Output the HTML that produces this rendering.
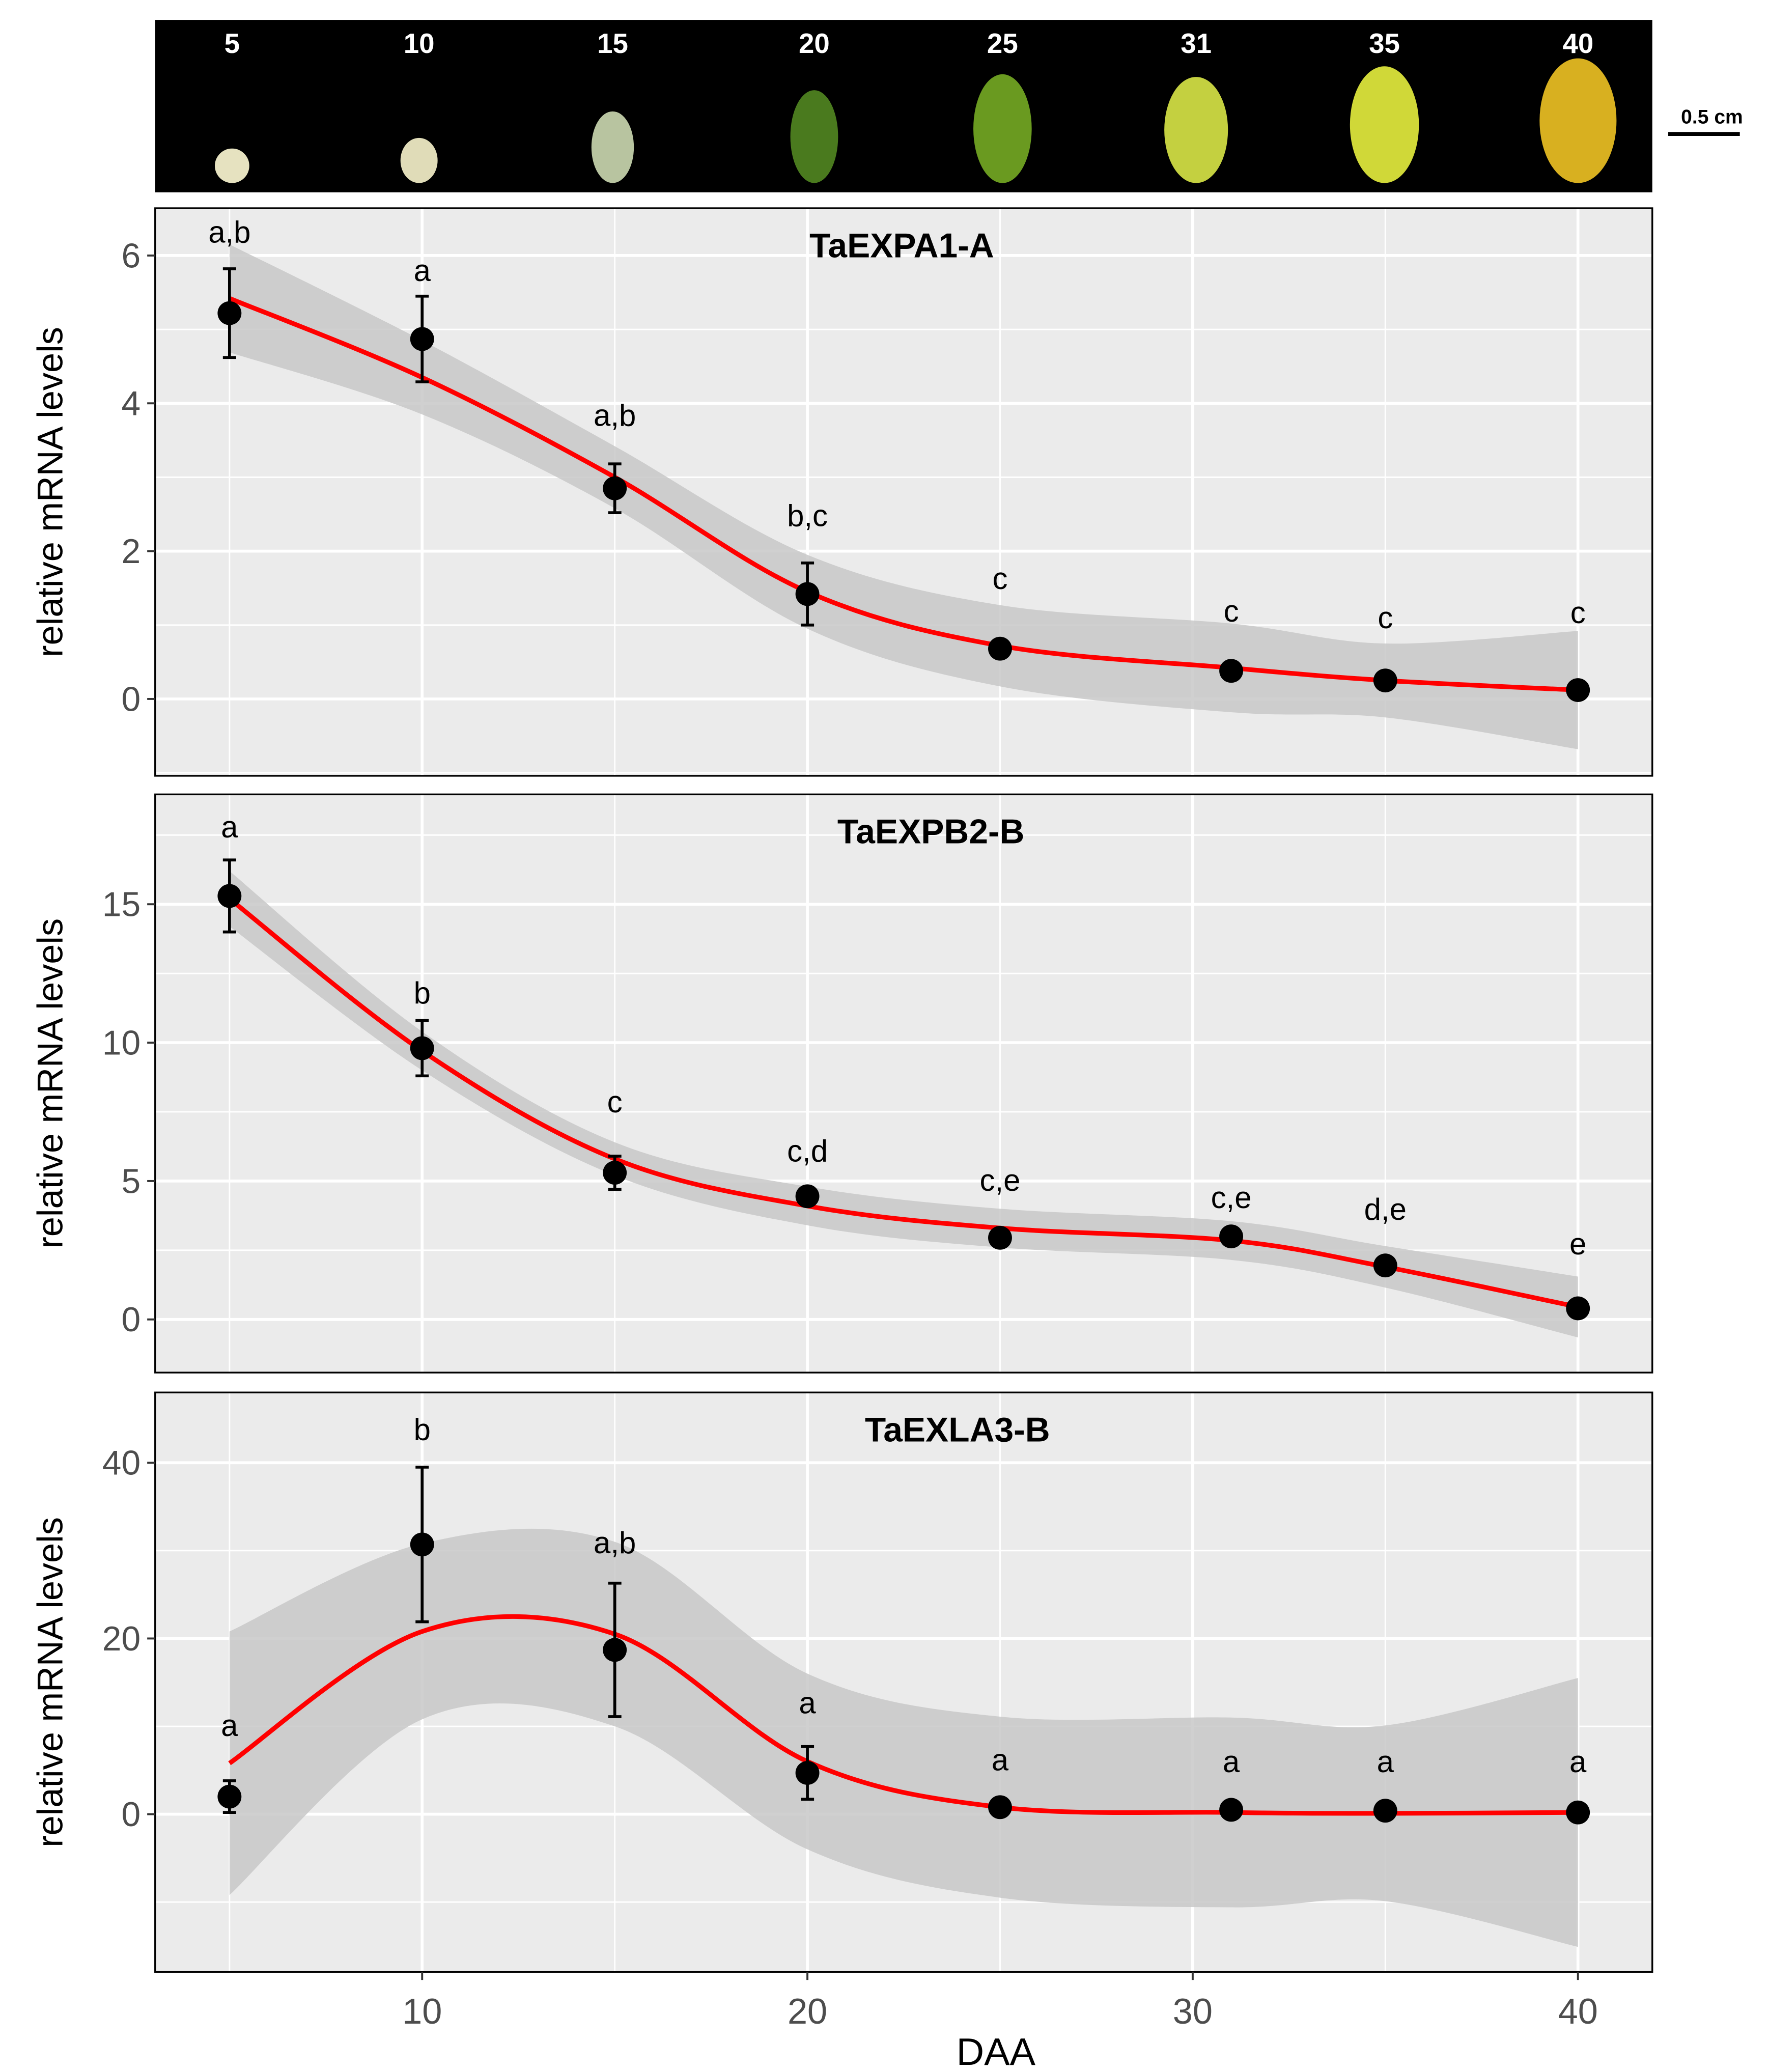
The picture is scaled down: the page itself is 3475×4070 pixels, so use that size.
<!DOCTYPE html>
<html><head><meta charset="utf-8"><style>
html,body{margin:0;padding:0;background:#fff}
svg{display:block}
text{font-family:"Liberation Sans",Arial,sans-serif}
</style></head><body>
<svg id="chart" width="3475" height="4070" viewBox="0 0 1334 1562.4" xmlns="http://www.w3.org/2000/svg">
<g id="photo">
<rect x="117" y="15" width="1129" height="130" fill="#000"/>
</g>
<g id="panels"></g>
<g id="xaxis"></g>
</svg>
<script>
const NS="http://www.w3.org/2000/svg";
const days=[5,10,15,20,25,31,35,40];
// Panel 1 TaEXPA1-A
const p1Mean=[5.22,4.87,2.85,1.42,0.68,0.38,0.25,0.12];
const p1Err=[0.6,0.58,0.33,0.42,0,0,0,0];
const p1Fit=[5.42,4.35,3.0,1.45,0.72,0.42,0.25,0.12];
const p1Band=[0.73,0.5,0.42,0.5,0.55,0.6,0.5,0.8];
const p1Letters=["a,b","a","a,b","b,c","c","c","c","c"];
const p1LabelY=[6.32,5.8,3.84,2.48,1.63,1.19,1.10,1.17];
const p1Ticks=[0,2,4,6];
// Panel 2 TaEXPB2-B
const p2Mean=[15.3,9.8,5.3,4.45,2.95,3.0,1.95,0.4];
const p2Err=[1.3,1.0,0.6,0,0,0,0,0];
const p2Fit=[15.2,9.7,5.8,4.1,3.3,2.85,1.9,0.45];
const p2Band=[1.0,0.7,0.6,0.7,0.7,0.7,0.75,1.1];
const p2Letters=["a","b","c","c,d","c,e","c,e","d,e","e"];
const p2LabelY=[17.8,11.8,7.86,6.09,5.03,4.41,3.98,2.73];
const p2Ticks=[0,5,10,15];
// Panel 3 TaEXLA3-B
const p3Mean=[2,30.7,18.7,4.7,0.8,0.5,0.4,0.2];
const p3Err=[1.8,8.8,7.6,3.0,0,0,0,0];
const p3Fit=[5.8,20.8,20.5,6.0,0.8,0.2,0.1,0.2];
const p3Band=[15,10,10.5,10,10.3,10.8,10,15.3];
const p3Letters=["a","b","a,b","a","a","a","a","a"];
const p3LabelY=[10.1,43.8,30.9,12.7,6.2,6.0,6.0,6.0];
const p3Ticks=[0,20,40];
const xTicks=[10,20,30,40];
const photoLabels=["5","10","15","20","25","31","35","40"];

const X0=117,X1=1246,XMIN=3.07,XMAX=41.93;
const sx=v=>X0+(v-XMIN)/(XMAX-XMIN)*(X1-X0);
function el(tag,attrs,parent){const e=document.createElementNS(NS,tag);for(const k in attrs)e.setAttribute(k,attrs[k]);parent.appendChild(e);return e;}
function spline(pts){let d="M"+pts[0][0]+","+pts[0][1];for(let i=0;i<pts.length-1;i++){const p0=pts[Math.max(0,i-1)],p1=pts[i],p2=pts[i+1],p3=pts[Math.min(pts.length-1,i+2)];const c1=[p1[0]+(p2[0]-p0[0])/6,p1[1]+(p2[1]-p0[1])/6],c2=[p2[0]-(p3[0]-p1[0])/6,p2[1]-(p3[1]-p1[1])/6];d+=" C"+c1+" "+c2+" "+p2;}return d;}

// photo strip
const photo=document.getElementById('photo');
const grainCol=["#e6e2c0","#e0dcb8","#b8c4a0","#4a7a1e","#6a9a20","#c4d040","#d0d838","#d8b020"];
const grainW=[13,14,16,18,22,24,26,29],grainH=[13,17,27,35,41,40,44,47];
photoLabels.forEach((lab,i)=>{
  const cx=[175,316,462,614,756,902,1044,1190][i];
  const t=el('text',{x:cx,y:40,'font-size':21,'font-weight':'bold',fill:'#fff','text-anchor':'middle'},photo);
  t.textContent=lab;
  
  
  const g=el('ellipse',{cx:cx,cy:138-grainH[i],rx:grainW[i],ry:grainH[i],fill:grainCol[i]},photo);
  
  
});
const sb=el('text',{x:1291,y:93,'font-size':15,'font-weight':'bold',fill:'#000','text-anchor':'middle'},photo);
sb.textContent="0.5 cm";


const sbl=el('line',{x1:1258,x2:1312,y1:101,y2:101,stroke:'#000','stroke-width':3},photo);



function panel(cfg){
  const root=document.getElementById('panels');
  const g=el('g',{},root);
  
  
  const sy=v=>cfg.yb+(v-cfg.ymin)/(cfg.ymax-cfg.ymin)*(cfg.yt-cfg.yb);
  const bg=el('rect',{x:X0,y:cfg.yt,width:X1-X0,height:cfg.yb-cfg.yt,fill:'#ebebeb'},g);
  
  
  const step=cfg.ticks[1]-cfg.ticks[0];
  for(let v=Math.ceil(cfg.ymin/(step/2))*(step/2);v<=cfg.ymax;v+=step/2){
    const major=cfg.ticks.includes(v);
    const l=el('line',{x1:X0,x2:X1,y1:sy(v),y2:sy(v),stroke:'#fff','stroke-width':major?2.2:1.1},g);
    
    
  }
  for(let v=5;v<=40;v+=5){
    const major=v%10===0;
    const l=el('line',{x1:sx(v),x2:sx(v),y1:cfg.yt,y2:cfg.yb,stroke:'#fff','stroke-width':major?2.2:1.1},g);
    
    
  }
  const up=days.map((d,i)=>[sx(d),sy(cfg.fit[i]+cfg.band[i])]);
  const lo=days.map((d,i)=>[sx(d),sy(cfg.fit[i]-cfg.band[i])]).reverse();
  const rb=el('path',{d:spline(up)+" L"+lo[0]+" "+spline(lo).slice(1)+" Z",fill:'#c8c8c8','fill-opacity':0.85},g);
  
  
  const ln=el('path',{d:spline(days.map((d,i)=>[sx(d),sy(cfg.fit[i])])),fill:'none',stroke:'#ff0000','stroke-width':3.5},g);
  
  
  days.forEach((d,i)=>{
    const x=sx(d);
    if(cfg.err[i]>0){
      const e=el('path',{d:`M${x},${sy(cfg.mean[i]+cfg.err[i])}V${sy(cfg.mean[i]-cfg.err[i])}M${x-5},${sy(cfg.mean[i]+cfg.err[i])}h10M${x-5},${sy(cfg.mean[i]-cfg.err[i])}h10`,stroke:'#000','stroke-width':2.2,fill:'none'},g);
      
      
    }
    const c=el('circle',{cx:x,cy:sy(cfg.mean[i]),r:9,fill:'#000'},g);
    
    
    const t=el('text',{x:x,y:sy(cfg.labelY[i])+8,'font-size':23,fill:'#000','text-anchor':'middle'},g);
    t.textContent=cfg.letters[i];
    
    
  });
  const bd=el('rect',{x:X0,y:cfg.yt,width:X1-X0,height:cfg.yb-cfg.yt,fill:'none',stroke:'#000','stroke-width':1.3},g);
  
  
  const tt=el('text',{x:cfg.titleX,y:cfg.yt+37,'font-size':26,'font-weight':'bold',fill:'#000','text-anchor':'middle'},g);
  tt.textContent=cfg.title;
  
  
  cfg.ticks.forEach(v=>{
    const tk=el('line',{x1:111,x2:117,y1:sy(v),y2:sy(v),stroke:'#333','stroke-width':1.5},g);
    
    
    const lb=el('text',{x:106,y:sy(v)+9,'font-size':26,fill:'#4d4d4d','text-anchor':'end'},g);
    lb.textContent=String(v);
    
    
  });
  const yc=(cfg.yt+cfg.yb)/2;
  const yt=el('text',{x:0,y:0,transform:`translate(47,${yc}) rotate(-90)`,'font-size':27,fill:'#000','text-anchor':'middle'},g);
  yt.textContent="relative mRNA levels";
  
  
}
panel({title:"TaEXPA1-A",titleX:680,yt:157,yb:585,ymin:-1.04,ymax:6.64,mean:p1Mean,err:p1Err,fit:p1Fit,band:p1Band,letters:p1Letters,labelY:p1LabelY,ticks:p1Ticks});
panel({title:"TaEXPB2-B",titleX:702,yt:599,yb:1035,ymin:-1.92,ymax:18.97,mean:p2Mean,err:p2Err,fit:p2Fit,band:p2Band,letters:p2Letters,labelY:p2LabelY,ticks:p2Ticks});
panel({title:"TaEXLA3-B",titleX:722,yt:1050,yb:1487,ymin:-17.96,ymax:48.0,mean:p3Mean,err:p3Err,fit:p3Fit,band:p3Band,letters:p3Letters,labelY:p3LabelY,ticks:p3Ticks});

const xa=document.getElementById('xaxis');
xTicks.forEach(v=>{
  const tk=el('line',{x1:sx(v),x2:sx(v),y1:1487,y2:1493,stroke:'#333','stroke-width':1.5},xa);
  
  
  const lb=el('text',{x:sx(v),y:1526,'font-size':27,fill:'#4d4d4d','text-anchor':'middle'},xa);
  lb.textContent=String(v);
  
  
});
const xt=el('text',{x:751,y:1557,'font-size':29,fill:'#000','text-anchor':'middle'},xa);
xt.textContent="DAA";


</script>
</body></html>
